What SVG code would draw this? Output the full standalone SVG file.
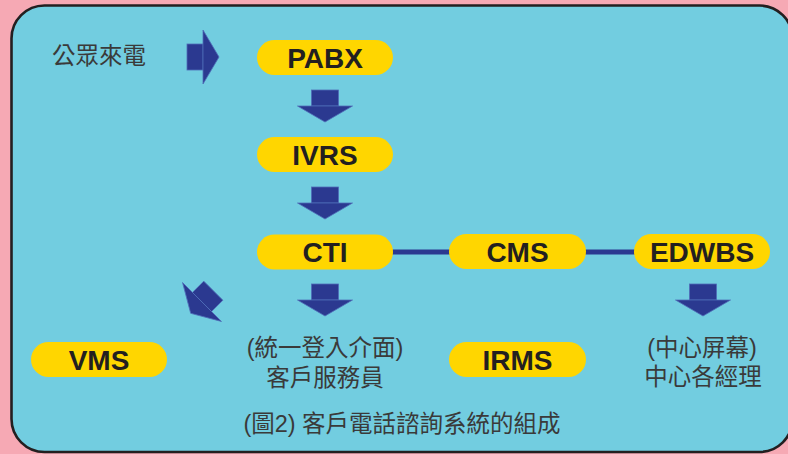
<svg xmlns="http://www.w3.org/2000/svg" width="788" height="454" viewBox="0 0 788 454">
<style>
.pill{fill:#FFD600}
.pt{font-family:"Liberation Sans",Arial,sans-serif;font-weight:bold;font-size:28px;fill:#231F20;text-anchor:middle}
.ct{font-family:"Liberation Sans","Noto Sans CJK TC",sans-serif;font-size:23.5px;fill:#3A3A3A;text-anchor:middle}
.arr{fill:#2B3990;stroke:#4F6DB8;stroke-width:0.8}
.link{stroke:#2B3990;stroke-width:5;fill:none}
</style>
<defs>
<g id="down">
<rect class="arr" x="-13.5" y="-16" width="27" height="16"/>
<polygon class="arr" points="-27.5,0 27.5,0 0,16"/>
</g>
</defs>
<rect x="0" y="0" width="788" height="454" fill="#F6A9B4"/>
<rect x="11.5" y="5.5" width="781" height="446.5" rx="33" ry="33" fill="#72CDE0" stroke="#231F20" stroke-width="2.6"/>

<g id="connectors">
<line class="link" x1="392" y1="252" x2="450" y2="252"/>
<line class="link" x1="585" y1="252" x2="635" y2="252"/>
<g id="arrow-in">
<rect class="arr" x="187" y="44" width="16" height="26"/>
<polygon class="arr" points="203,30 219,57 203,84"/>
</g>
<use href="#down" transform="translate(325,106)"/>
<use href="#down" transform="translate(325,203)"/>
<use href="#down" transform="translate(325,300)"/>
<use href="#down" transform="translate(703,300)"/>
<use href="#down" transform="translate(202,302) rotate(45)"/>
</g>

<g id="caller">
<text class="ct" x="52" y="64" style="text-anchor:start">公眾來電</text>
</g>
<g id="pabx">
<rect class="pill" x="257" y="40" width="136" height="35" rx="17.5"/>
<text class="pt" x="325" y="67.5">PABX</text>
</g>
<g id="ivrs">
<rect class="pill" x="257" y="137" width="136" height="35" rx="17.5"/>
<text class="pt" x="325" y="164.5">IVRS</text>
</g>
<g id="cti">
<rect class="pill" x="257" y="234.5" width="136" height="35" rx="17.5"/>
<text class="pt" x="325" y="262">CTI</text>
</g>
<g id="cms">
<rect class="pill" x="449" y="234" width="137" height="35" rx="17.5"/>
<text class="pt" x="517.5" y="261.5">CMS</text>
</g>
<g id="edwbs">
<rect class="pill" x="634" y="234" width="136" height="35" rx="17.5"/>
<text class="pt" x="702" y="261.5">EDWBS</text>
</g>
<g id="vms">
<rect class="pill" x="31" y="342" width="136" height="35" rx="17.5"/>
<text class="pt" x="99" y="369.5">VMS</text>
</g>
<g id="irms">
<rect class="pill" x="449" y="342" width="137" height="35" rx="17.5"/>
<text class="pt" x="517.5" y="369.5">IRMS</text>
</g>
<g id="agent">
<text class="ct" x="325" y="356">(統一登入介面)</text>
<text class="ct" x="325" y="386">客戶服務員</text>
</g>
<g id="manager">
<text class="ct" x="702" y="356">(中心屏幕)</text>
<text class="ct" x="703" y="385">中心各經理</text>
</g>
<g id="caption">
<text class="ct" x="402" y="432">(圖2) 客戶電話諮詢系統的組成</text>
</g>
</svg>
